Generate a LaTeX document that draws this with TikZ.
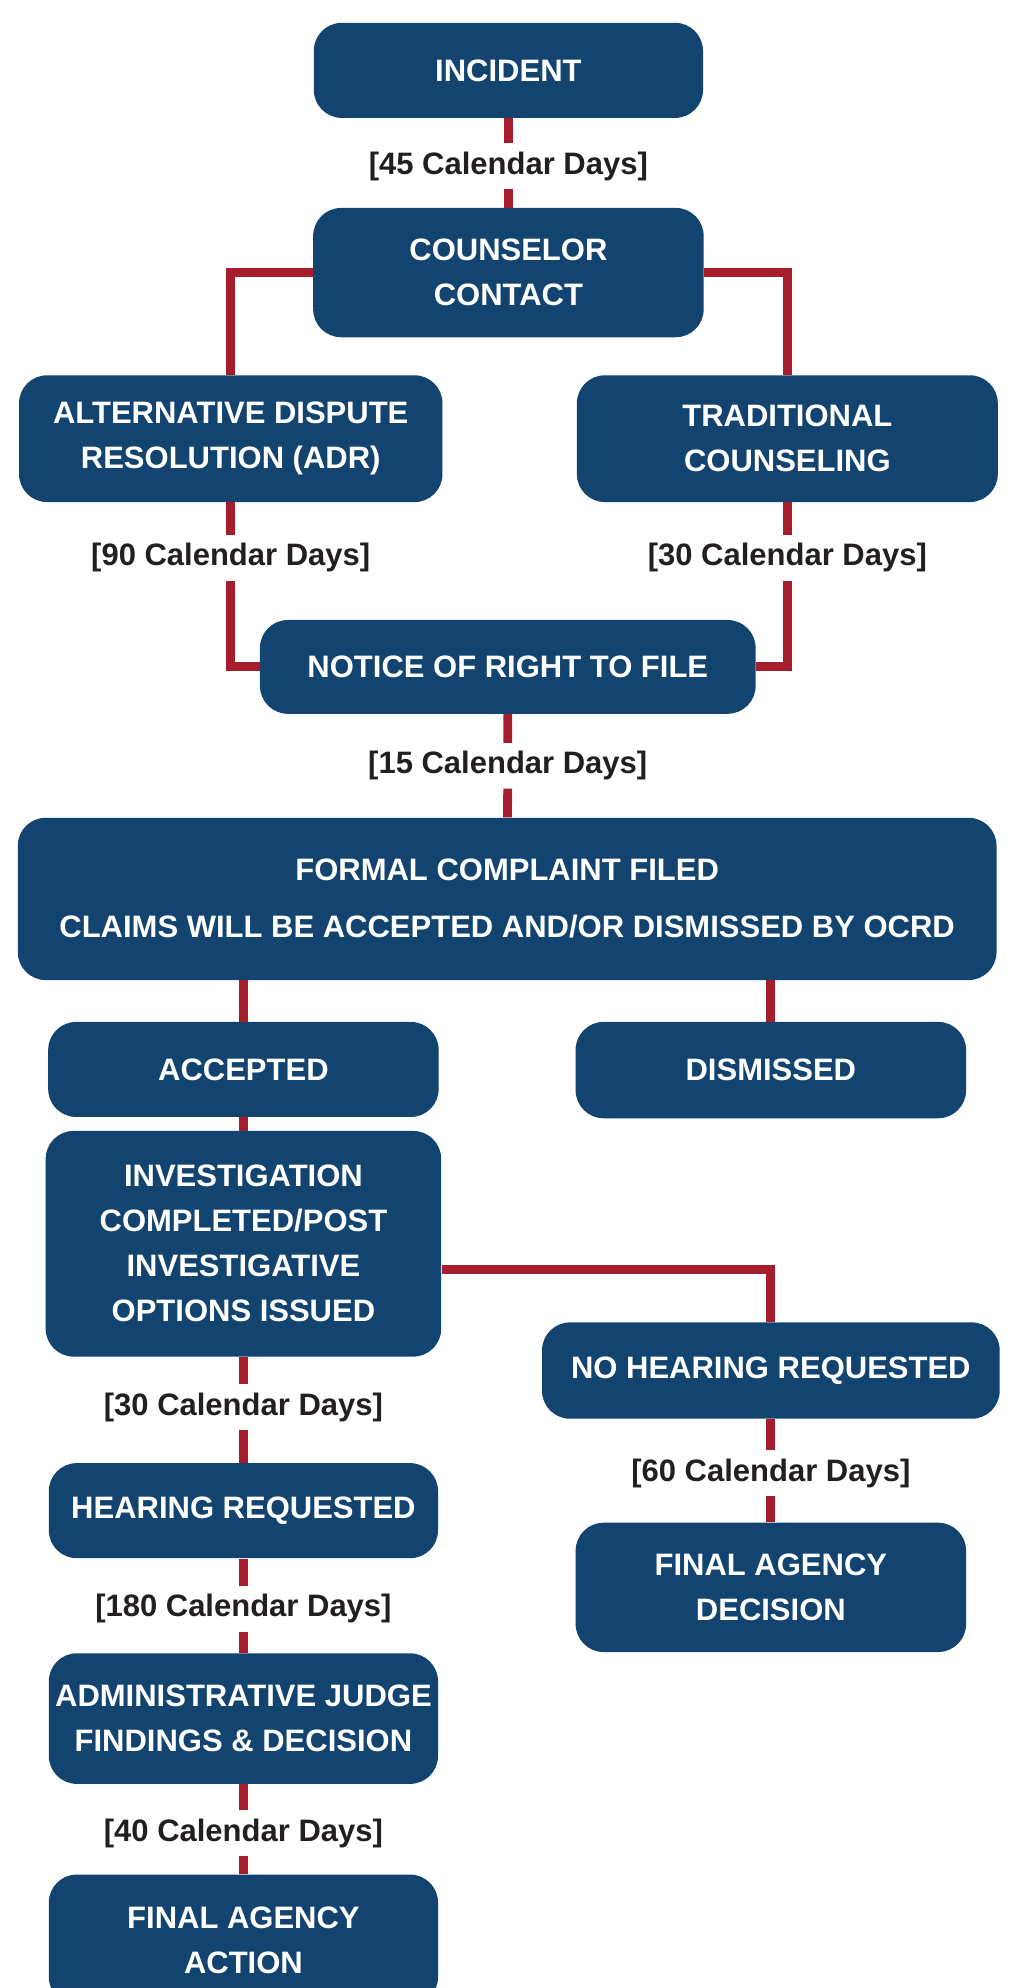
\documentclass[tikz,border=0pt]{standalone}
\usepackage{fontspec}
\setmainfont{Liberation Sans}
\definecolor{navy}{RGB}{19,68,111}
\definecolor{linkred}{RGB}{166,30,46}
\definecolor{daytext}{RGB}{35,31,32}

\begin{document}
\begin{tikzpicture}[x=0.634pt,y=-0.634pt,
  box/.style 2 args={rectangle,rounded corners=14pt,fill=navy,text=white,
    font=\bfseries\fontsize{15.5}{22.5}\selectfont,align=center,inner sep=0pt,
    minimum width=#1*0.634pt,minimum height=#2*0.634pt},
  days/.style={text=daytext,font=\bfseries\fontsize{15.5}{18}\selectfont,inner sep=4pt},
  link/.style={draw=linkred,line width=4.4pt}]
  \useasboundingbox (0,0) rectangle (799,1568);
  % boxes
  \node[box={307}{75}] (incident) at (401,55.5) {INCIDENT};
  \node[box={308}{102}] (counselor) at (401,215) {COUNSELOR\\CONTACT};
  \node[box={334}{100}] (adr) at (182,346) {ALTERNATIVE DISPUTE\\RESOLUTION (ADR)};
  \node[box={332}{100}] (trad) at (621,346) {TRADITIONAL\\COUNSELING};
  \node[box={391}{74}] (notice) at (400.5,526) {NOTICE OF RIGHT TO FILE};
  \node[box={772}{128}] (formal) at (400,709) {FORMAL COMPLAINT FILED\\[6pt]CLAIMS WILL BE ACCEPTED AND/OR DISMISSED BY OCRD};
  \node[box={308}{75}] (accepted) at (192,843.5) {ACCEPTED};
  \node[box={308}{76}] (dismissed) at (608,844) {DISMISSED};
  \node[box={312}{178}] (invest) at (192,981) {INVESTIGATION\\COMPLETED/POST\\INVESTIGATIVE\\OPTIONS ISSUED};
  \node[box={361}{76}] (nohear) at (608,1081) {NO HEARING REQUESTED};
  \node[box={308}{102}] (fadecision) at (608,1252) {FINAL AGENCY\\DECISION};
  \node[box={307}{75}] (hear) at (192,1191.5) {HEARING REQUESTED};
  \node[box={307}{103}] (judge) at (192,1355.5) {ADMINISTRATIVE JUDGE\\FINDINGS \& DECISION};
  \node[box={307}{103}] (faaction) at (192,1530) {FINAL AGENCY\\ACTION};
  % time limits
  \node[days] (d45) at (401,131) {[45 Calendar Days]};
  \node[days] (d90) at (182,440) {[90 Calendar Days]};
  \node[days] (d30r) at (621,440) {[30 Calendar Days]};
  \node[days] (d15) at (400.5,604) {[15 Calendar Days]};
  \node[days] (d30l) at (192,1110) {[30 Calendar Days]};
  \node[days] (d60) at (608,1162) {[60 Calendar Days]};
  \node[days] (d180) at (192,1269) {[180 Calendar Days]};
  \node[days] (d40) at (192,1446) {[40 Calendar Days]};
  % connectors
  \draw[link] (incident) -- (d45) -- (counselor);
  \draw[link] (counselor) -| (adr);
  \draw[link] (counselor) -| (trad);
  \draw[link] (adr) -- (d90);
  \draw[link] (d90) |- (notice);
  \draw[link] (trad) -- (d30r);
  \draw[link] (d30r) |- (notice);
  \draw[link] (notice) -- (d15) -- (formal);
  \draw[link] (accepted |- formal.south) -- (accepted);
  \draw[link] (dismissed |- formal.south) -- (dismissed);
  \draw[link] (accepted) -- (invest);
  \draw[link] ([yshift=-12.7pt]invest.east) -| (nohear);
  \draw[link] (nohear) -- (d60) -- (fadecision);
  \draw[link] (invest) -- (d30l) -- (hear) -- (d180) -- (judge) -- (d40) -- (faaction);
\end{tikzpicture}
\end{document}
